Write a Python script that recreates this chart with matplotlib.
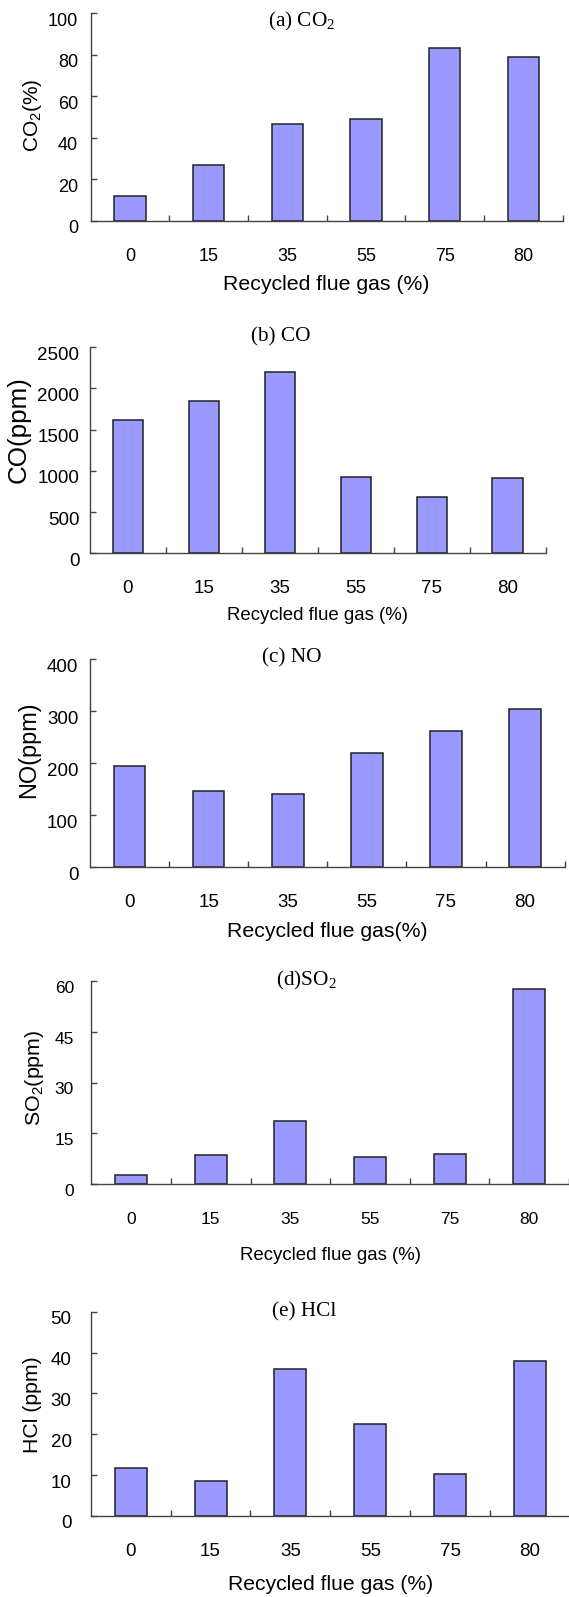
import matplotlib
matplotlib.use("Agg")
import matplotlib.pyplot as plt
import matplotlib.transforms as mtransforms

plt.rcParams['font.family'] = ['Liberation Sans', 'DejaVu Sans']
plt.rcParams['mathtext.default'] = 'regular'

W, H = 569, 1597

# Recycled flue gas share (%) and measured concentrations
recycle = ['0', '15', '35', '55', '75', '80']
co2 = [11.9, 26.8, 46.6, 49.0, 83.1, 78.9]
co = [1618, 1845, 2201, 930, 680, 914]
no = [195, 147, 141, 220, 262, 305]
so2 = [2.8, 8.5, 18.6, 8.1, 8.8, 57.5]
hcl = [11.7, 8.5, 35.9, 22.5, 10.3, 37.9]

panels = [
    # axes box in px (left, right, top, bottom), text positions in px
    dict(v=co2, ymax=100, step=20, box=(90.7, 562.6, 13.3, 220.7), title="(a) CO$_2$", tpos=(302, 21.7),
         ylab="CO$_2$(%)", ypos=(33, 115), ysize=15.0, xlab="Recycled flue gas (%)", xly=285, xsize=15.3,
         tsize=13, ypad=9),
    dict(v=co, ymax=2500, step=500, box=(90, 545.6, 347.3, 553.3), title="(b) CO", tpos=(281, 337.3),
         ylab="CO(ppm)", ypos=(18.3, 430), ysize=18.7, xlab="Recycled flue gas (%)", xly=616, xsize=13.4,
         tsize=13.5, ypad=7.7),
    dict(v=no, ymax=400, step=100, box=(90, 564.6, 659.3, 867.3), title="(c) NO", tpos=(292, 658.3),
         ylab="NO(ppm)", ypos=(28.3, 750), ysize=16.9, xlab="Recycled flue gas(%)", xly=931.7, xsize=15.3,
         tsize=13.5, ypad=8.4),
    dict(v=so2, ymax=60, step=15, box=(91.4, 569, 980.7, 1184.3), title="(d)SO$_2$", tpos=(306.6, 980),
         ylab="SO$_2$(ppm)", ypos=(35, 1078), ysize=15.4, xlab="Recycled flue gas (%)", xly=1255, xsize=13.4,
         tsize=12.5, ypad=12.5),
    dict(v=hcl, ymax=50, step=10, box=(90.7, 570, 1311.7, 1516), title="(e) HCl", tpos=(304, 1311.7),
         ylab="HCl (ppm)", ypos=(33, 1405), ysize=15.3, xlab="Recycled flue gas (%)", xly=1585, xsize=15.2,
         tsize=13.5, ypad=13.7),
]

fig = plt.figure(figsize=(W / 100, H / 100), dpi=100)
down = mtransforms.ScaledTranslation(0, -6 / 100, fig.dpi_scale_trans)

for p in panels:
    l, r, t, b = p['box']
    ax = fig.add_axes([l / W, 1 - b / H, (r - l) / W, (b - t) / H])
    n = len(recycle)
    centers = [i + 0.5 for i in range(n)]
    ax.bar(centers, p['v'], width=0.4, color='#9999FF', edgecolor='#222222', linewidth=1.1, zorder=2)

    ax.set_xlim(0, n)
    ax.set_ylim(0, p['ymax'])
    ax.set_yticks(range(0, p['ymax'] + 1, p['step']))
    ax.set_xticks(range(1, n + 1))
    ax.set_xticklabels([])
    ax.set_xticks(centers, minor=True)
    ax.set_xticklabels(recycle, minor=True)

    for side in ('top', 'right'):
        ax.spines[side].set_visible(False)
    for side in ('left', 'bottom'):
        ax.spines[side].set_color('#444444')
        ax.spines[side].set_linewidth(1.0)

    ax.tick_params(axis='y', direction='in', length=4.5, width=1.0, color='#444444',
                   labelsize=p['tsize'], pad=p['ypad'])
    ax.tick_params(axis='x', which='major', direction='in', length=4, width=1.0, color='#444444')
    ax.tick_params(axis='x', which='minor', length=0, labelsize=p['tsize'], pad=25.5)
    for lab in ax.get_yticklabels():
        lab.set_transform(lab.get_transform() + down)
    for lab in ax.get_xticklabels(minor=True):
        lab.set_va('center')

    fig.text(p['tpos'][0] / W, 1 - p['tpos'][1] / H, p['title'], family='Liberation Serif',
             fontsize=15.3, ha='center', va='center')
    fig.text(p['ypos'][0] / W, 1 - p['ypos'][1] / H, p['ylab'], rotation=90,
             fontsize=p['ysize'], ha='center', va='center')
    fig.text((l + r) / 2 / W, 1 - p['xly'] / H, p['xlab'],
             fontsize=p['xsize'], ha='center', va='center')

fig.savefig('out.png', dpi=100)
